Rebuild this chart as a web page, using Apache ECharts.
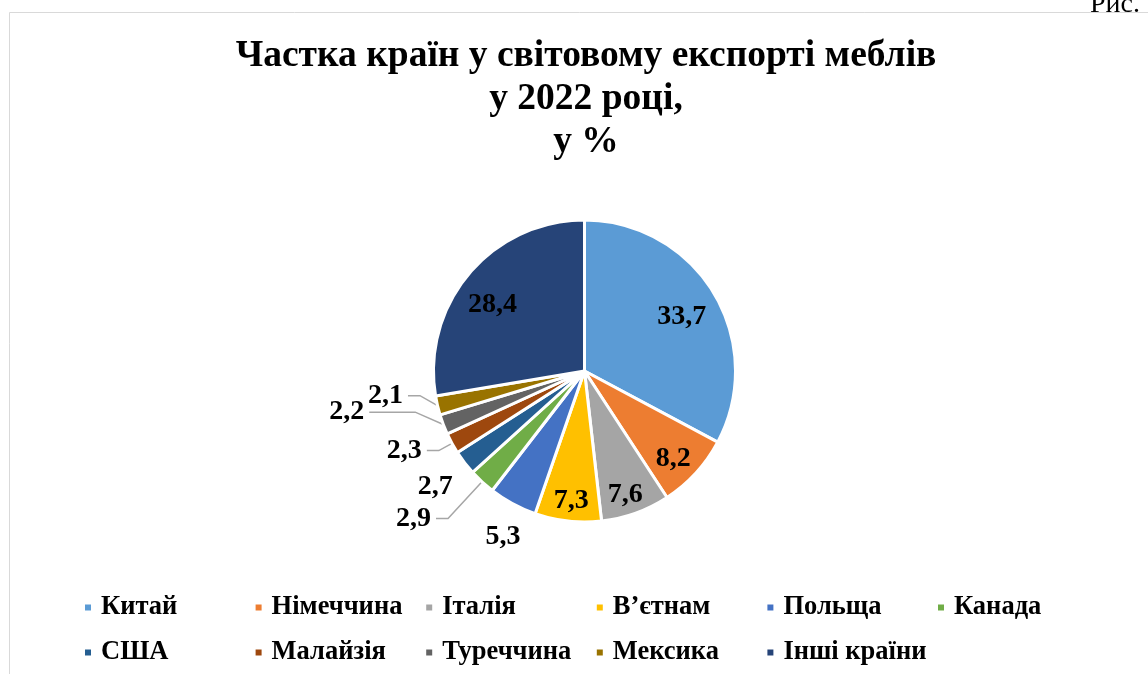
<!DOCTYPE html>
<html><head><meta charset="utf-8">
<script src="https://cdn.jsdelivr.net/npm/echarts@6/dist/echarts.min.js"></script>
<style>html,body{margin:0;padding:0;background:#fff}#c{width:1148px;height:674px}</style>
</head><body><div id="c"></div>
<script>
const titleLines = ['Частка країн у світовому експорті меблів', 'у 2022 році,', 'у %'];
const countries = ['Китай', 'Німеччина', 'Італія', 'В’єтнам', 'Польща', 'Канада', 'США', 'Малайзія', 'Туреччина', 'Мексика', 'Інші країни'];
const shares = [33.7, 8.2, 7.6, 7.3, 5.3, 2.9, 2.7, 2.3, 2.2, 2.1, 28.4];
const colors = ['#5B9BD5', '#ED7D31', '#A5A5A5', '#FFC000', '#4472C4', '#70AD47', '#255E91', '#9E480E', '#636363', '#997300', '#264478'];
const insideLabelNames = ['Китай', 'Німеччина', 'Італія', 'В’єтнам', 'Інші країни'];
const ringLabelNames = ['Польща', 'США'];
const leaderLabelNames = ['Канада', 'Малайзія', 'Туреччина', 'Мексика'];
const legendColumns = [['Китай', 'США'], ['Німеччина', 'Малайзія'], ['Італія', 'Туреччина'], ['В’єтнам', 'Мексика'], ['Польща', 'Інші країни'], ['Канада']];

const FONT = "'Liberation Serif', 'Times New Roman', serif";
const fmt = v => v.toFixed(1).replace('.', ',');
const CENTER = [584.5, 371];
const R = 151;

// style tweaks (not data)
const leaderLen = { 'Канада': [50, 12], 'Малайзія': [15, 12], 'Туреччина': [30, 46], 'Мексика': [18, 12] };
const leaderDy = { 'Туреччина': -23, 'Мексика': -14 };
const insideOffset = { 'Китай': [-6, 8], 'Інші країни': [0, 12], 'Німеччина': [0, 6], 'Італія': [0, 10], 'В’єтнам': [0, 10] };
const ringOffset = { 'Польща': [8, 0], 'США': [0, 2] };

const labelText = { fontFamily: FONT, fontSize: 28, fontWeight: 'bold', color: '#000' };

const mainData = countries.map((n, i) => {
  const d = { name: n, value: shares[i], itemStyle: { color: colors[i] } };
  if (leaderLabelNames.includes(n)) {
    d.label = { show: true, position: 'outside', formatter: p => fmt(p.value), ...labelText, distanceToLabelLine: 5 };
    d.labelLine = { show: true, length: leaderLen[n][0], length2: leaderLen[n][1], lineStyle: { color: '#A6A6A6', width: 1.5 } };
  } else {
    d.label = { show: false };
    d.labelLine = { show: false };
  }
  return d;
});

const insideData = countries.map((n, i) => ({
  name: n, value: shares[i],
  label: insideLabelNames.includes(n) ? { show: true, offset: insideOffset[n] || [0, 0] } : { show: false }
}));
const ringData = countries.map((n, i) => ({
  name: n, value: shares[i],
  label: ringLabelNames.includes(n) ? { show: true, offset: ringOffset[n] || [0, 0] } : { show: false }
}));

const chart = echarts.init(document.getElementById('c'), null, { renderer: 'canvas' });
chart.setOption({
  animation: false,
  backgroundColor: '#fff',
  graphic: [
    { type: 'rect', shape: { x: 9.5, y: 12.5, width: 1200, height: 700 }, style: { fill: 'none', stroke: '#D9D9D9', lineWidth: 1 }, z: -10 },
    { type: 'text', left: 1090, top: -9, style: { text: 'Рис. 1', font: "28px 'Liberation Serif'", fill: '#000' } }
  ],
  title: {
    text: titleLines.join('\n'),
    left: 581, top: 30, textAlign: 'center',
    textStyle: { fontFamily: FONT, fontSize: 37.5, fontWeight: 'bold', lineHeight: 43, color: '#000' }
  },
  legend: legendColumns.map((names, k) => ({
    orient: 'vertical', left: 83 + k * 170.6, top: 594, padding: 0,
    data: names, icon: 'rect', itemWidth: 8, itemHeight: 8, itemGap: 18,
    selectedMode: false,
    textStyle: { fontFamily: FONT, fontSize: 26.5, fontWeight: 'bold', color: '#000', lineHeight: 27, padding: [0, 0, 0, 4] }
  })),
  series: [
    {
      type: 'pie', center: CENTER, radius: R, startAngle: 90, clockwise: true,
      avoidLabelOverlap: false, silent: true,
      itemStyle: { borderColor: '#fff', borderWidth: 3 },
      data: mainData,
      labelLayout: p => {
        const n = countries[p.dataIndex];
        const dy = leaderDy[n];
        if (!dy || !p.labelLinePoints) return {};
        const pts = p.labelLinePoints.map(q => q.slice());
        pts[1][1] += dy; pts[2][1] += dy;
        return { dy: dy, labelLinePoints: pts };
      }
    },
    {
      type: 'pie', center: CENTER, radius: [84, R], startAngle: 90, clockwise: true,
      silent: true, avoidLabelOverlap: false,
      itemStyle: { color: 'rgba(0,0,0,0)' },
      label: { position: 'inside', formatter: p => fmt(p.value), ...labelText },
      labelLine: { show: false },
      data: insideData
    },
    {
      type: 'pie', center: CENTER, radius: [165, 205], startAngle: 90, clockwise: true,
      silent: true, avoidLabelOverlap: false,
      itemStyle: { color: 'rgba(0,0,0,0)' },
      label: { position: 'inside', formatter: p => fmt(p.value), ...labelText },
      labelLine: { show: false },
      data: ringData
    }
  ]
});
</script>
</body></html>
